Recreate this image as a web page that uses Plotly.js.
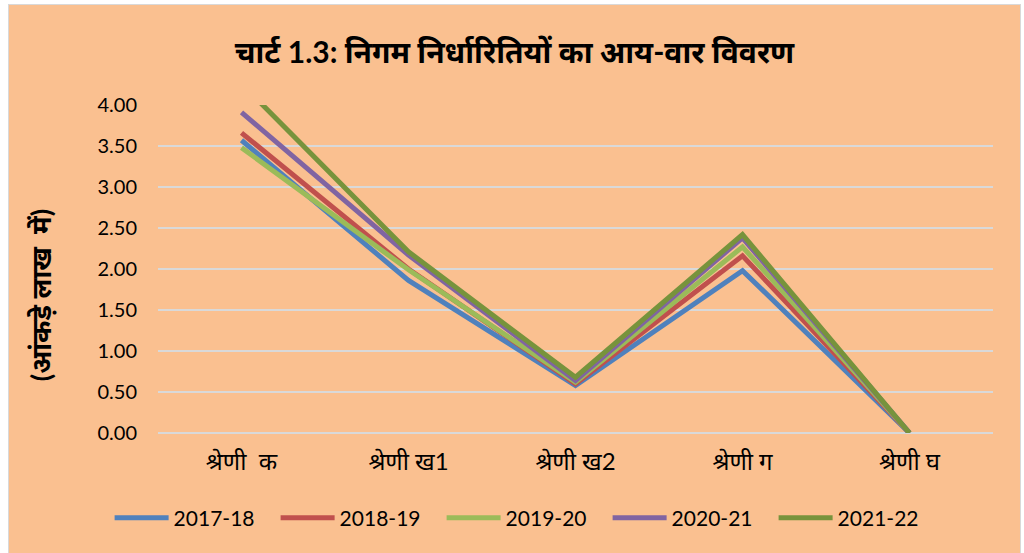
<!DOCTYPE html>
<html>
<head>
<meta charset="utf-8">
<script src="https://cdn.plot.ly/plotly-3.0.1.min.js"></script>
<style>
  html, body { margin: 0; padding: 0; background: #ffffff; width: 1024px; height: 553px; overflow: hidden; }
  #frame { position: absolute; left: 8px; top: 4px; width: 1011px; height: 555px; border: 1px solid #D9D9D9; background: #FAC090; }
  #chart { width: 1011px; height: 555px; }
</style>
</head>
<body>
<div id="frame"><div id="chart"></div></div>
<script>
const categories = ["श्रेणी  क", "श्रेणी ख1", "श्रेणी ख2", "श्रेणी ग", "श्रेणी घ"];
const seriesNames = ["2017-18", "2018-19", "2019-20", "2020-21", "2021-22"];
const s2017_18 = [3.57, 1.86, 0.58, 1.98, 0.00];
const s2018_19 = [3.66, 2.00, 0.60, 2.16, 0.00];
const s2019_20 = [3.48, 1.99, 0.62, 2.27, 0.00];
const s2020_21 = [3.91, 2.17, 0.64, 2.38, 0.00];
const s2021_22 = [4.26, 2.21, 0.68, 2.42, 0.00];
const yTickVals = [0, 0.5, 1, 1.5, 2, 2.5, 3, 3.5, 4];
const yTickText = ["0.00", "0.50", "1.00", "1.50", "2.00", "2.50", "3.00", "3.50", "4.00"];
const colors = ["#4F81BD", "#C0504D", "#9BBB59", "#8064A2", "#77933C"];

const allSeries = [s2017_18, s2018_19, s2019_20, s2020_21, s2021_22];
const traces = allSeries.map((vals, i) => ({
  type: "scatter",
  mode: "lines",
  x: categories,
  y: vals,
  name: seriesNames[i],
  line: { color: colors[i], width: 5 }
}));

const font = "Lato, 'Noto Sans', sans-serif";
const layout = {
  width: 1011,
  height: 555,
  paper_bgcolor: "#FAC090",
  plot_bgcolor: "#FAC090",
  margin: { l: 149, r: 27, t: 100, b: 127 },
  showlegend: true,
  title: {
    text: "<b>चार्ट 1.3: निगम निर्धारितियों का आय-वार विवरण</b>",
    font: { family: font, size: 30, color: "#000000" },
    x: 0.5, xanchor: "center",
    y: 1 - 47 / 555, yanchor: "middle", yref: "container"
  },
  xaxis: {
    type: "category",
    showgrid: false,
    zeroline: false,
    showline: false,
    ticks: "",
    ticklabelstandoff: 12,
    tickfont: { family: font, size: 24, color: "#000000" },
    range: [-0.5, 4.5],
    fixedrange: true
  },
  yaxis: {
    range: [0, 4],
    tickvals: yTickVals,
    ticktext: yTickText,
    showgrid: true,
    gridcolor: "#D9D9D9",
    gridwidth: 2,
    zeroline: true,
    zerolinecolor: "#D9D9D9",
    zerolinewidth: 2,
    showline: false,
    ticks: "",
    ticklabelstandoff: 20,
    tickfont: { family: font, size: 20, color: "#000000" },
    fixedrange: true
  },
  legend: {
    orientation: "h",
    x: 0.51, xanchor: "center", xref: "container",
    y: 1 - 513 / 555, yanchor: "middle", yref: "container",
    font: { family: font, size: 21, color: "#000000" },
    bgcolor: "rgba(0,0,0,0)",
    itemwidth: 54,
    entrywidth: 97,
    entrywidthmode: "pixels",
    traceorder: "normal"
  },
  annotations: [{
    text: "<b>(आंकड़े लाख  में)</b>",
    xref: "paper", yref: "paper",
    x: (40 - 158) / 835, y: 0.42,
    xanchor: "center", yanchor: "middle",
    textangle: -90,
    showarrow: false,
    font: { family: font, size: 27, color: "#000000" }
  }]
};

Plotly.newPlot("chart", traces, layout, { staticPlot: true, displayModeBar: false });
</script>
</body>
</html>
